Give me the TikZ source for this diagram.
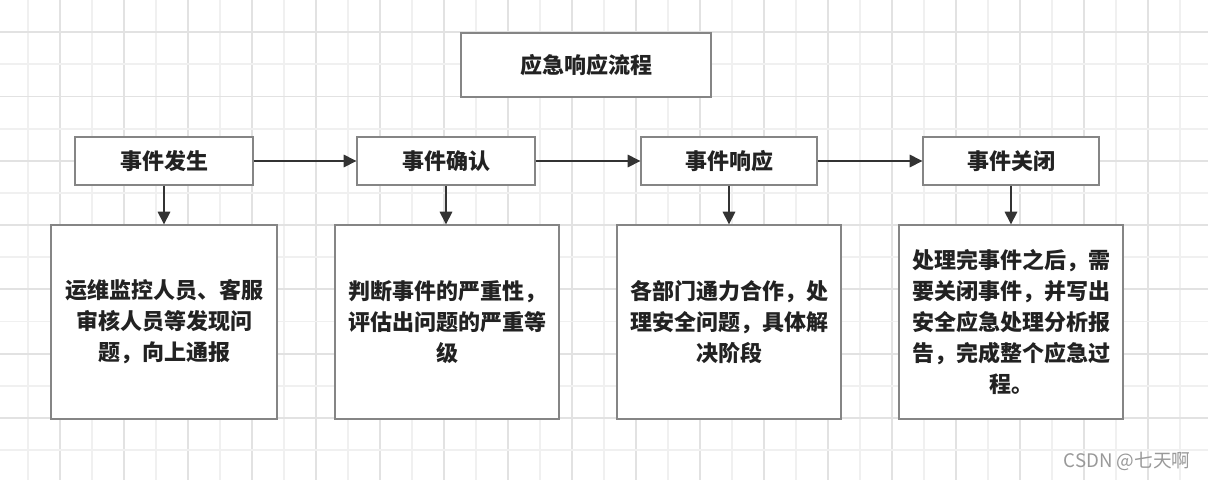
\documentclass[tikz,border=0pt]{standalone}
\usepackage{fontspec}
\setmainfont{Noto Sans CJK SC}
\usetikzlibrary{arrows.meta}

\definecolor{gridlight}{HTML}{F0F0F0}
\definecolor{griddark}{HTML}{E2E2E2}
\definecolor{boxline}{HTML}{858585}
\definecolor{arrowline}{HTML}{333333}
\definecolor{txt}{HTML}{222222}

\tikzset{
    stagebox/.style={draw=boxline, line width=1pt, fill=white, inner sep=0pt,
        text=txt, font=\fontsize{16.5pt}{23.25pt}\selectfont\bfseries, align=center},
    flow/.style={-{Triangle[length=9.5pt,width=9.5pt]}, draw=arrowline, line width=0.9pt},
}

\begin{document}
\begin{tikzpicture}[x=0.75pt, y=-0.75pt]
        \fill[white] (0,0) rectangle (1208,480);
        \useasboundingbox (0,0) rectangle (1208,480);

        % fundo quadriculado
        \foreach \k in {0,...,37} {
            \pgfmathtruncatemacro{\odd}{mod(\k,2)}
            \ifnum\odd=1
                \draw[griddark, line width=1.4pt] (28+32*\k,0) -- (28+32*\k,480);
            \else
                \draw[gridlight, line width=1.4pt] (28+32*\k,0) -- (28+32*\k,480);
            \fi
        }
        \foreach \k in {1,...,14} {
            \pgfmathtruncatemacro{\odd}{mod(\k,2)}
            \ifnum\odd=1
                \draw[griddark, line width=1.4pt] (0,32.15*\k) -- (1208,32.15*\k);
            \else
                \draw[gridlight, line width=1.4pt] (0,32.15*\k) -- (1208,32.15*\k);
            \fi
        }

        \node[stagebox, minimum width=187.5pt, minimum height=48pt] (titulo) at (586,65) {应急响应流程};

        \node[stagebox, minimum width=133.5pt, minimum height=36pt] (e1) at (164,161) {事件发生};
        \node[stagebox, minimum width=133.5pt, minimum height=36pt] (e2) at (446,161) {事件确认};
        \node[stagebox, minimum width=132pt, minimum height=36pt] (e3) at (729,161) {事件响应};
        \node[stagebox, minimum width=132pt, minimum height=36pt] (e4) at (1011,161) {事件关闭};

        \node[stagebox, minimum width=169.5pt, minimum height=145.5pt] (d1) at (164,322)
            {运维监控人员、客服\\审核人员等发现问\\题，向上通报};
        \node[stagebox, minimum width=168pt, minimum height=145.5pt] (d2) at (447,322)
            {判断事件的严重性，\\评估出问题的严重等\\级};
        \node[stagebox, minimum width=168pt, minimum height=145.5pt] (d3) at (729,322)
            {各部门通力合作，处\\理安全问题，具体解\\决阶段};
        \node[stagebox, minimum width=168pt, minimum height=145.5pt] (d4) at (1011,322)
            {处理完事件之后，需\\要关闭事件，并写出\\安全应急处理分析报\\告，完成整个应急过\\程。};

        \draw[flow] (e1) -- (e2);
        \draw[flow] (e2) -- (e3);
        \draw[flow] (e3) -- (e4);

        \draw[flow] (e1.south) -- (e1.south |- d1.north);
        \draw[flow] (e2.south) -- (e2.south |- d2.north);
        \draw[flow] (e3.south) -- (e3.south |- d3.north);
        \draw[flow] (e4.south) -- (e4.south |- d4.north);

        \node[text=gray!80, font=\fontsize{14pt}{16pt}\selectfont] (marca) at (1127,461) {CSDN @七天啊};

    \end{tikzpicture}
\end{document}
